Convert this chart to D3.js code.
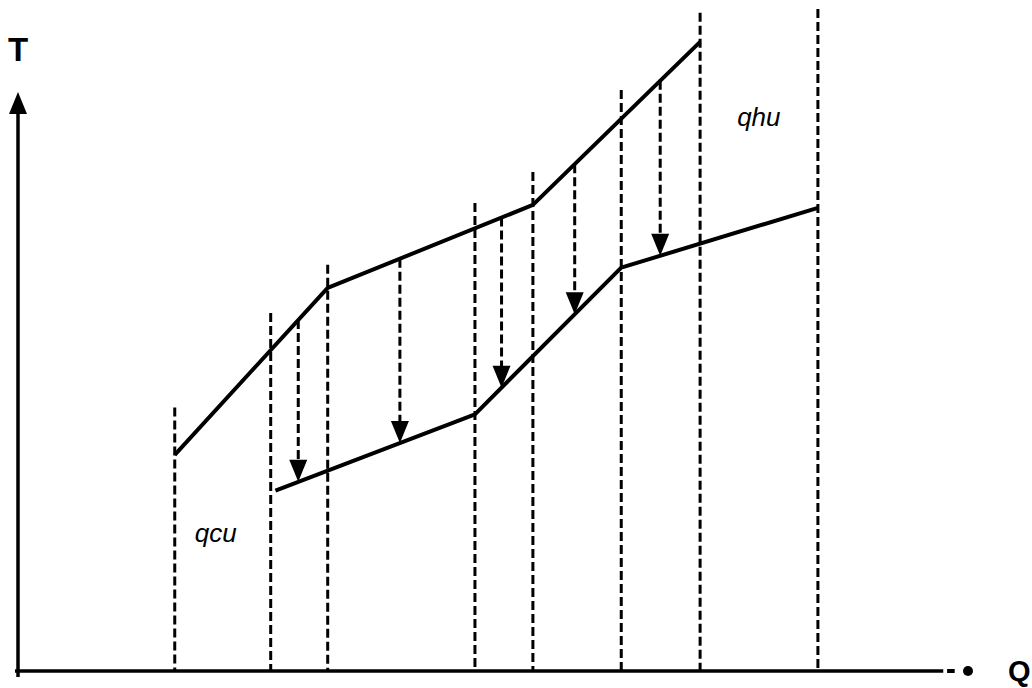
<!DOCTYPE html>
<html>
<head>
<meta charset="utf-8">
<script src="https://cdn.jsdelivr.net/npm/d3@7"></script>
<style>
  html, body { margin: 0; padding: 0; background: #fff; }
  svg { display: block; }
  text { font-family: "Liberation Sans", Arial, sans-serif; fill: #000; }
</style>
</head>
<body>
<svg id="chart" width="1032" height="688"></svg>
<script>
// ---- data (arbitrary heat-load Q and temperature T units) ----
const hotQ  = [165, 326, 542, 718];
const hotT  = [224, 397, 483, 652];
const coldQ = [271, 481, 635, 842];
const coldT = [187, 266, 418, 480];
// vertical interval boundaries (Q) and their top (T)
const gridQ    = [165, 266, 326, 481, 542, 635, 718, 842];
const gridTopT = [273, 371, 421, 485, 517, 602, 682, 686];
// heat transfer arrows from hot to cold composite (Q positions)
const arrowQ = [295, 402, 509, 586, 676];
// labels
const labels = [
  { text: "qcu", q: 186, t: 134 },
  { text: "qhu", q: 757, t: 565 }
];
const axisLabels = { y: "T", x: "Q" };

// ---- scales ----
const x = d3.scaleLinear().domain([0, 1000]).range([18, 968]);
const y = d3.scaleLinear().domain([0, 600]).range([671, 92]);

const svg = d3.select("#chart");

// interpolators along composites
const hotT_at  = d3.scaleLinear().domain(hotQ).range(hotT);
const coldT_at = d3.scaleLinear().domain(coldQ).range(coldT);

// vertical dashed lines
svg.append("g").selectAll("line").data(gridQ).join("line")
  .attr("x1", d => x(d)).attr("x2", d => x(d))
  .attr("y1", (d, i) => y(gridTopT[i])).attr("y2", y(0))
  .attr("stroke", "#000").attr("stroke-width", 3)
  .attr("stroke-dasharray", "9,4");

// axes
const ax = svg.append("g");
ax.append("line")
  .attr("x1", x(0)).attr("x2", x(0))
  .attr("y1", y(0) + 6).attr("y2", y(600) + 18)
  .attr("stroke", "#000").attr("stroke-width", 3.5);
ax.append("path")
  .attr("d", `M${x(0)},${y(600)} L${x(0) - 9},${y(600) + 22} L${x(0) + 9},${y(600) + 22} Z`)
  .attr("fill", "#000");
ax.append("line")
  .attr("x1", x(0) - 3).attr("x2", x(975) - 1)
  .attr("y1", y(0)).attr("y2", y(0))
  .attr("stroke", "#000").attr("stroke-width", 3.5);
ax.append("line")
  .attr("x1", x(978)).attr("x2", x(986))
  .attr("y1", y(0)).attr("y2", y(0))
  .attr("stroke", "#000").attr("stroke-width", 4);
ax.append("circle")
  .attr("cx", x(1000)).attr("cy", y(0)).attr("r", 5)
  .attr("fill", "#000");
ax.append("text")
  .attr("x", 8).attr("y", 61)
  .attr("font-size", 33).attr("font-weight", "bold")
  .text(axisLabels.y);
ax.append("text")
  .attr("x", 1008).attr("y", 681)
  .attr("font-size", 29).attr("font-weight", "bold")
  .text(axisLabels.x);

// composite curves
const line = d3.line().x(d => x(d[0])).y(d => y(d[1]));
svg.append("path")
  .datum(hotQ.map((q, i) => [q, hotT[i]]))
  .attr("d", line)
  .attr("fill", "none").attr("stroke", "#000").attr("stroke-width", 4)
  .attr("stroke-linejoin", "round");
svg.append("path")
  .datum(coldQ.map((q, i) => [q, coldT[i]]))
  .attr("d", line)
  .attr("fill", "none").attr("stroke", "#000").attr("stroke-width", 4)
  .attr("stroke-linejoin", "round");

// arrows
const ag = svg.append("g");
arrowQ.forEach(q => {
  const x0 = x(q), yTop = y(hotT_at(q)), yTip = y(coldT_at(q));
  ag.append("line")
    .attr("x1", x0).attr("x2", x0)
    .attr("y1", yTop).attr("y2", yTip - 18)
    .attr("stroke", "#000").attr("stroke-width", 3)
    .attr("stroke-dasharray", "9,4");
  ag.append("path")
    .attr("d", `M${x0},${yTip} L${x0 - 9},${yTip - 22} L${x0 + 9},${yTip - 22} Z`)
    .attr("fill", "#000");
});

// labels
svg.append("g").selectAll("text").data(labels).join("text")
  .attr("x", d => x(d.q)).attr("y", d => y(d.t))
  .attr("font-size", 26).attr("font-style", "italic")
  .text(d => d.text);
</script>
</body>
</html>
